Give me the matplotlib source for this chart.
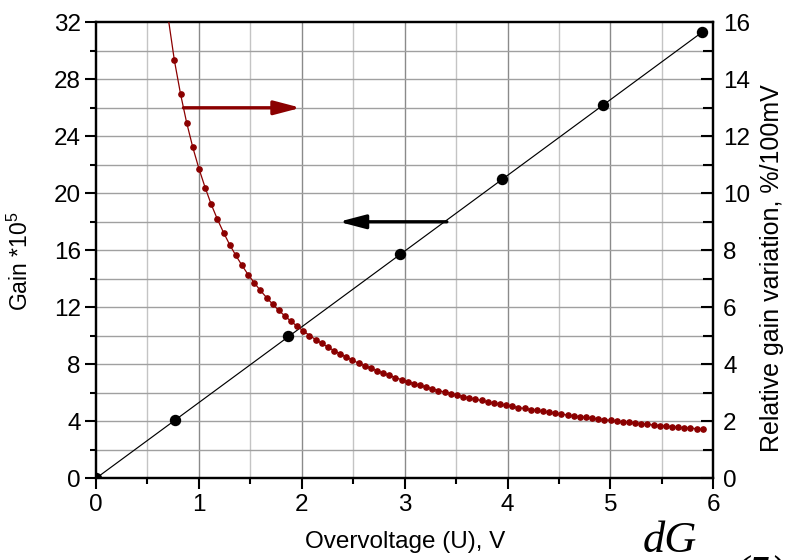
import matplotlib
matplotlib.use("Agg")
import matplotlib.pyplot as plt
from matplotlib.ticker import MultipleLocator

plt.rcParams['font.family'] = ['Liberation Sans', 'DejaVu Sans']

# Gain data (left axis, Gain *10^5)
gain_u = [0.0, 0.771, 1.866, 2.957, 3.95, 4.925, 5.89]
gain_val = [0.0, 4.09, 9.99, 15.72, 21.0, 26.2, 31.3]
# linear fit line drawn through the gain points
fit_u = [0.0, 5.89]
fit_val = [0.0, 31.3]

# Relative gain variation (right axis, %/100mV)
var_u = [0.762, 0.822, 0.881, 0.941, 1.001, 1.061, 1.120, 1.180, 1.240, 1.299,
         1.359, 1.419, 1.478, 1.538, 1.598, 1.658, 1.717, 1.777, 1.837, 1.896,
         1.956, 2.016, 2.075, 2.135, 2.195, 2.255, 2.314, 2.374, 2.434, 2.493,
         2.553, 2.613, 2.672, 2.732, 2.792, 2.852, 2.911, 2.971, 3.031, 3.090,
         3.150, 3.210, 3.269, 3.329, 3.389, 3.449, 3.508, 3.568, 3.628, 3.687,
         3.747, 3.807, 3.866, 3.926, 3.986, 4.046, 4.105, 4.165, 4.225, 4.284,
         4.344, 4.404, 4.463, 4.523, 4.583, 4.643, 4.702, 4.762, 4.822, 4.881,
         4.941, 5.001, 5.060, 5.120, 5.180, 5.240, 5.299, 5.359, 5.419, 5.478,
         5.538, 5.598, 5.657, 5.717, 5.777, 5.837, 5.896]
var_val = [14.66, 13.48, 12.48, 11.61, 10.86, 10.20, 9.61, 9.09, 8.62, 8.20,
           7.82, 7.47, 7.15, 6.86, 6.59, 6.34, 6.11, 5.89, 5.69, 5.51,
           5.33, 5.17, 5.01, 4.87, 4.73, 4.60, 4.48, 4.36, 4.25, 4.14,
           4.04, 3.95, 3.86, 3.77, 3.69, 3.61, 3.53, 3.46, 3.39, 3.32,
           3.26, 3.20, 3.14, 3.08, 3.02, 2.97, 2.92, 2.87, 2.82, 2.77,
           2.73, 2.68, 2.64, 2.60, 2.56, 2.52, 2.48, 2.45, 2.41, 2.38,
           2.35, 2.31, 2.28, 2.25, 2.22, 2.19, 2.16, 2.14, 2.11, 2.08,
           2.06, 2.03, 2.01, 1.98, 1.96, 1.94, 1.92, 1.89, 1.87, 1.85,
           1.83, 1.81, 1.79, 1.77, 1.76, 1.74, 1.72]
# start of the fitted curve above the top of the plot
curve_start_u = [0.70]
curve_start_val = [16.2]

red = '#8b0000'
x_ticks = [0, 1, 2, 3, 4, 5, 6]
left_ticks = [0, 4, 8, 12, 16, 20, 24, 28, 32]
right_ticks = [0, 2, 4, 6, 8, 10, 12, 14, 16]

fig = plt.figure(figsize=(7.88, 5.6), dpi=100)
ax = fig.add_axes([96/788, 1-478.3/560, 617.3/788, 456/560])

# grid
for xv in [0.5 * i for i in range(1, 12)]:
    col = '#8a8a8a' if abs(xv - round(xv)) < 1e-9 else '#c4c4c4'
    ax.axvline(xv, color=col, lw=1.0, zorder=0)
for yv in range(2, 32, 2):
    ax.axhline(yv, color='#a0a0a0', lw=1.0, zorder=0)

ax.plot(fit_u, fit_val, color='black', lw=0.85, zorder=2)
ax.plot(gain_u, gain_val, 'o', color='black', ms=7.2, zorder=3)

ax.set_xlim(0, 6)
ax.set_ylim(0, 32)
ax.set_xticks(x_ticks)
ax.set_yticks(left_ticks)
ax.xaxis.set_minor_locator(MultipleLocator(0.5))
ax.yaxis.set_minor_locator(MultipleLocator(2))
ax.tick_params(axis='both', which='major', direction='out', length=8, width=1.5,
               labelsize=17.5, pad=3)
ax.tick_params(axis='both', which='minor', direction='out', length=4.5, width=1.5)
for s in ax.spines.values():
    s.set_linewidth(1.6)

ax.set_xlabel('Overvoltage (U), V', fontsize=17.5)
ax.xaxis.set_label_coords(0.5, -0.115)
ax.set_ylabel('Gain *10$^{\\mathregular{5}}$', fontsize=16.5)
ax.yaxis.set_label_coords(-0.102, 0.475)

ax.annotate('', xy=(2.36, 18), xytext=(3.41, 18),
            arrowprops=dict(arrowstyle='-|>,head_length=1.6,head_width=0.42',
                            color='black', lw=2.4, shrinkA=0, shrinkB=0),
            zorder=4)

ax2 = ax.twinx()
ax2.plot(curve_start_u + var_u, curve_start_val + var_val, color=red, lw=0.9, zorder=3)
ax2.plot(var_u, var_val, 'o', color=red, ms=3.8, zorder=4)
ax2.set_ylim(0, 16)
ax2.set_yticks(right_ticks)
ax2.yaxis.set_minor_locator(MultipleLocator(1))
ax2.tick_params(axis='y', which='major', direction='in', length=9, width=1.5,
                labelsize=17.5, pad=7)
ax2.tick_params(axis='y', which='minor', direction='in', length=7, width=1.5)
for s in ax2.spines.values():
    s.set_linewidth(1.6)
ax2.set_ylabel('Relative gain variation, %/100mV', fontsize=18)
ax2.yaxis.set_label_coords(1.076, 0.46)

ax2.annotate('', xy=(1.99, 13), xytext=(0.85, 13),
             arrowprops=dict(arrowstyle='-|>,head_length=1.6,head_width=0.42',
                             color=red, lw=2.4, shrinkA=0, shrinkB=0),
             zorder=5)

fig.text(643/788, 1-552/560, 'dG', family=['Liberation Serif'], style='italic',
         fontsize=32, ha='left', va='baseline')
fig.text(733/788, 1-556/560, '(5)', family=['Liberation Serif'], style='italic',
         fontsize=32, ha='left', va='top')

fig.savefig('out.png', dpi=100)
